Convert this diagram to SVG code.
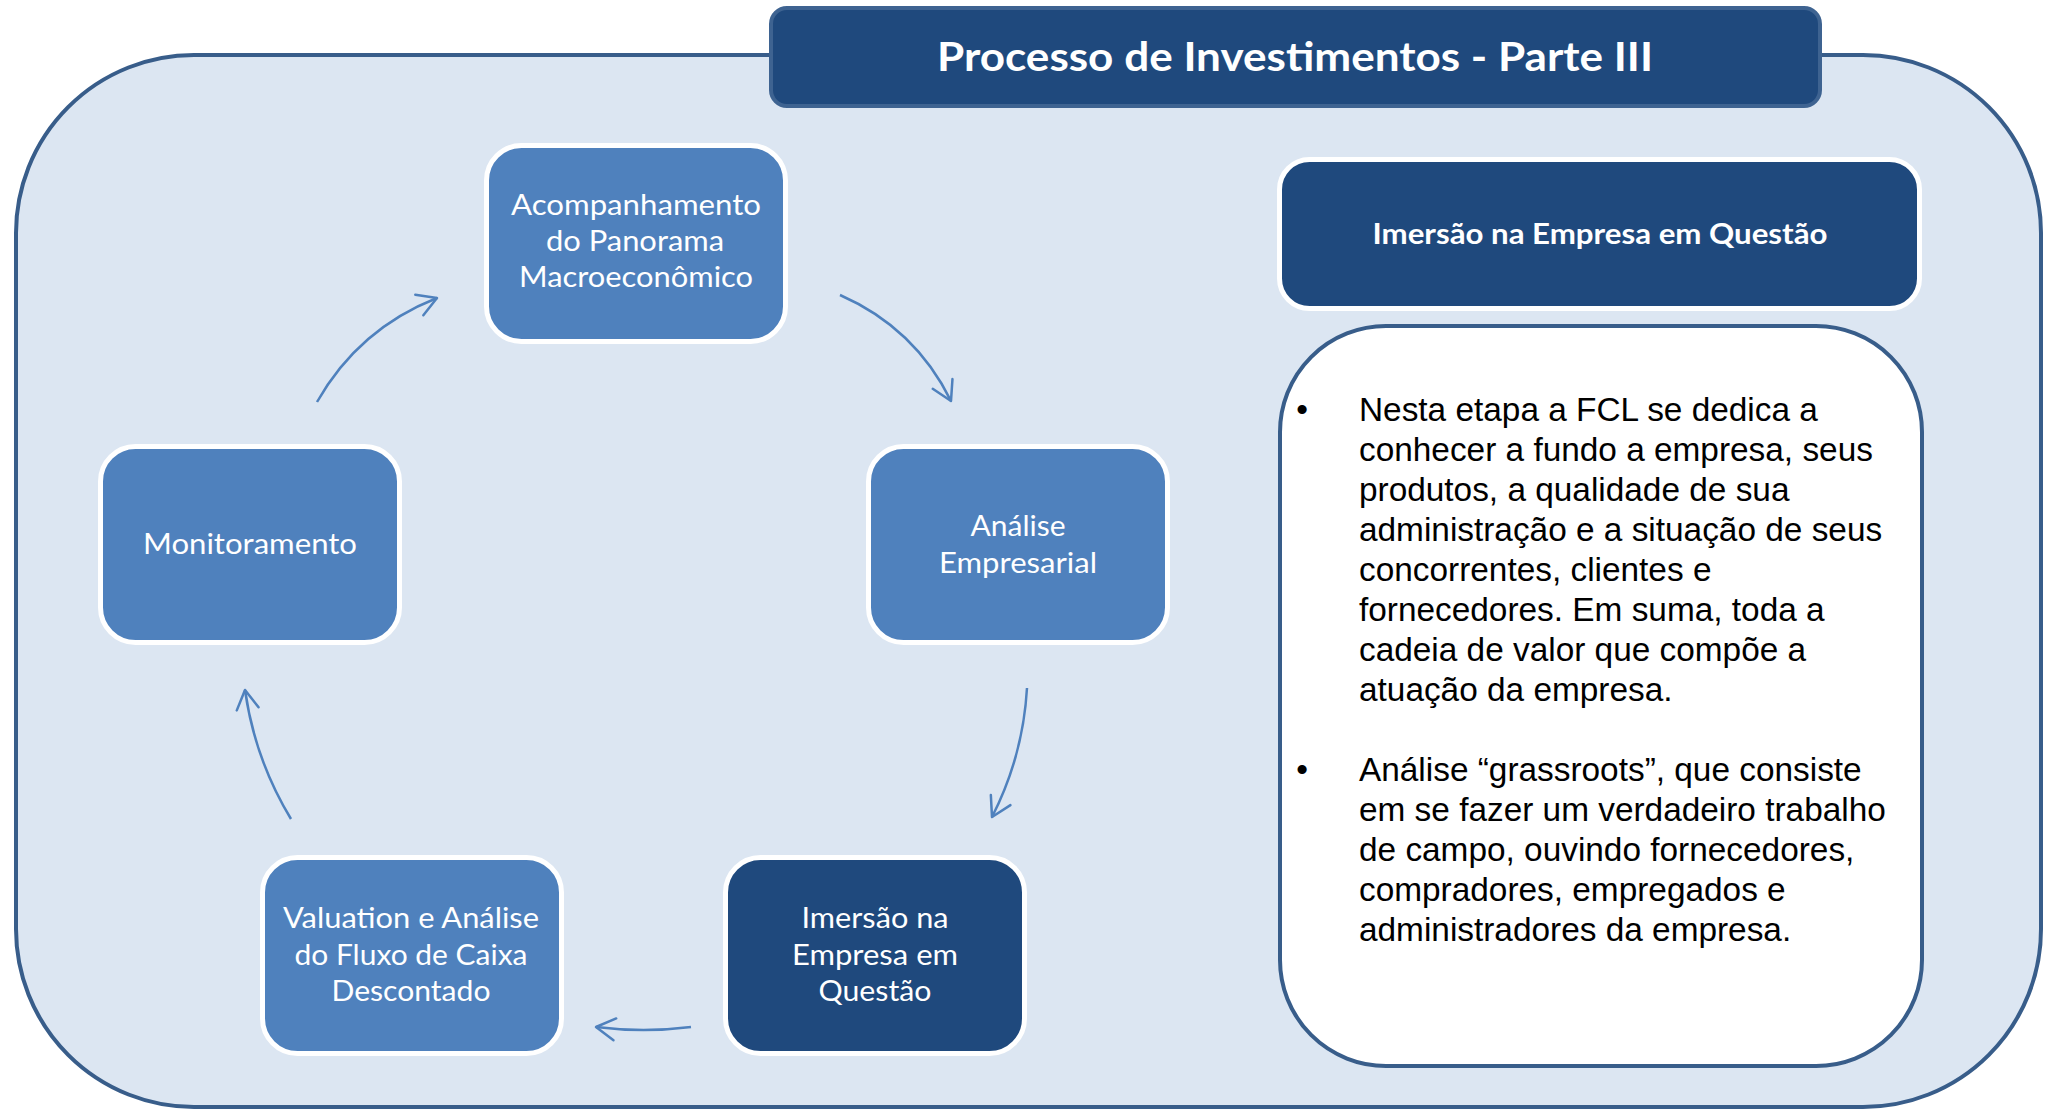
<svg xmlns="http://www.w3.org/2000/svg" width="2053" height="1110" viewBox="0 0 2053 1110">
  <style>
    .node { stroke: #FFFFFF; stroke-width: 5; }
    .light { fill: #4F81BD; }
    .dark { fill: #1F497D; }
    .ntext { font-family: Lato, "Open Sans", "Liberation Sans", sans-serif; font-size: 29px; fill: #FFFFFF; text-anchor: middle; }
    .conn { fill: none; stroke: #4F81BD; stroke-width: 2.5; marker-end: url(#arrow); }
    .body { font-family: "Liberation Sans", Arial, sans-serif; font-size: 32.5px; fill: #000000; }
  </style>
  <defs>
    <marker id="arrow" viewBox="-25 -15 30 30" refX="0" refY="0" markerWidth="30" markerHeight="30" markerUnits="userSpaceOnUse" orient="auto">
      <path d="M-19,-11 L0,0 L-19,11" fill="none" stroke="#4F81BD" stroke-width="2.5" stroke-linecap="round" stroke-linejoin="round"/>
    </marker>
  </defs>

  <rect x="0" y="0" width="2053" height="1110" fill="#FFFFFF"/>

  <g id="background-panel">
    <rect x="16" y="55" width="2025" height="1052" rx="178" ry="178" fill="#DCE6F2" stroke="#385D8A" stroke-width="4"/>
  </g>

  <g id="title">
    <rect x="771" y="8" width="1049" height="98" rx="16" ry="16" fill="#1F497D" stroke="#3E6391" stroke-width="4"/>
    <text x="1295" y="71" font-family="Lato, 'Open Sans', 'Liberation Sans', sans-serif" font-size="40" font-weight="bold" fill="#FFFFFF" text-anchor="middle" textLength="716" lengthAdjust="spacingAndGlyphs">Processo de Investimentos - Parte III</text>
  </g>

  <g id="connectors">
    <path class="conn" d="M317,402 Q358.6,328.8 437,298"/>
    <path class="conn" d="M840,295 Q914.9,327.8 951,401"/>
    <path class="conn" d="M1027,688 Q1023.1,756.1 992,817"/>
    <path class="conn" d="M691,1027 Q643.5,1033 596,1027"/>
    <path class="conn" d="M291,819 Q254.8,759.3 245,690"/>
  </g>

  <g id="node-acompanhamento">
    <rect class="node light" x="486.5" y="145.5" width="299" height="196" rx="35" ry="35"/>
    <text class="ntext" x="636" y="215" textLength="250" lengthAdjust="spacingAndGlyphs">Acompanhamento</text>
    <text class="ntext" x="635" y="251" textLength="178" lengthAdjust="spacingAndGlyphs">do Panorama</text>
    <text class="ntext" x="636" y="287" textLength="234" lengthAdjust="spacingAndGlyphs">Macroeconômico</text>
  </g>

  <g id="node-analise">
    <rect class="node light" x="868.5" y="446.5" width="299" height="196" rx="35" ry="35"/>
    <text class="ntext" x="1018" y="536" textLength="95" lengthAdjust="spacingAndGlyphs">Análise</text>
    <text class="ntext" x="1018" y="573" textLength="158" lengthAdjust="spacingAndGlyphs">Empresarial</text>
  </g>

  <g id="node-imersao">
    <rect class="node dark" x="725.5" y="857.5" width="299" height="196" rx="35" ry="35"/>
    <text class="ntext" x="875" y="928" textLength="147" lengthAdjust="spacingAndGlyphs">Imersão na</text>
    <text class="ntext" x="875" y="965" textLength="166" lengthAdjust="spacingAndGlyphs">Empresa em</text>
    <text class="ntext" x="875" y="1001" textLength="113" lengthAdjust="spacingAndGlyphs">Questão</text>
  </g>

  <g id="node-valuation">
    <rect class="node light" x="262.5" y="857.5" width="299" height="196" rx="35" ry="35"/>
    <text class="ntext" x="411" y="928" textLength="256" lengthAdjust="spacingAndGlyphs">Valuation e Análise</text>
    <text class="ntext" x="411" y="965" textLength="233" lengthAdjust="spacingAndGlyphs">do Fluxo de Caixa</text>
    <text class="ntext" x="411" y="1001" textLength="159" lengthAdjust="spacingAndGlyphs">Descontado</text>
  </g>

  <g id="node-monitoramento">
    <rect class="node light" x="100.5" y="446.5" width="299" height="196" rx="35" ry="35"/>
    <text class="ntext" x="250" y="554" textLength="214" lengthAdjust="spacingAndGlyphs">Monitoramento</text>
  </g>

  <g id="header-imersao">
    <rect x="1279.5" y="159.5" width="640" height="149" rx="30" ry="30" fill="#1F497D" stroke="#FFFFFF" stroke-width="5"/>
    <text x="1600" y="244" font-family="Lato, 'Open Sans', 'Liberation Sans', sans-serif" font-size="28.5" font-weight="bold" fill="#FFFFFF" text-anchor="middle" textLength="455" lengthAdjust="spacingAndGlyphs">Imersão na Empresa em Questão</text>
  </g>

  <g id="description-box">
    <rect x="1280" y="326" width="642" height="740" rx="106" ry="106" fill="#FFFFFF" stroke="#385D8A" stroke-width="4"/>
    <g transform="translate(1359,0) scale(1.027,1) translate(-1359,0)">
      <text class="body" x="1298" y="421">•</text>
      <text class="body" x="1359" y="421">Nesta etapa a FCL se dedica a</text>
      <text class="body" x="1359" y="461">conhecer a fundo a empresa, seus</text>
      <text class="body" x="1359" y="501">produtos, a qualidade de sua</text>
      <text class="body" x="1359" y="541">administração e a situação de seus</text>
      <text class="body" x="1359" y="581">concorrentes, clientes e</text>
      <text class="body" x="1359" y="621">fornecedores. Em suma, toda a</text>
      <text class="body" x="1359" y="661">cadeia de valor que compõe a</text>
      <text class="body" x="1359" y="701">atuação da empresa.</text>
      <text class="body" x="1298" y="781">•</text>
      <text class="body" x="1359" y="781">Análise “grassroots”, que consiste</text>
      <text class="body" x="1359" y="821">em se fazer um verdadeiro trabalho</text>
      <text class="body" x="1359" y="861">de campo, ouvindo fornecedores,</text>
      <text class="body" x="1359" y="901">compradores, empregados e</text>
      <text class="body" x="1359" y="941">administradores da empresa.</text>
    </g>
  </g>
</svg>
